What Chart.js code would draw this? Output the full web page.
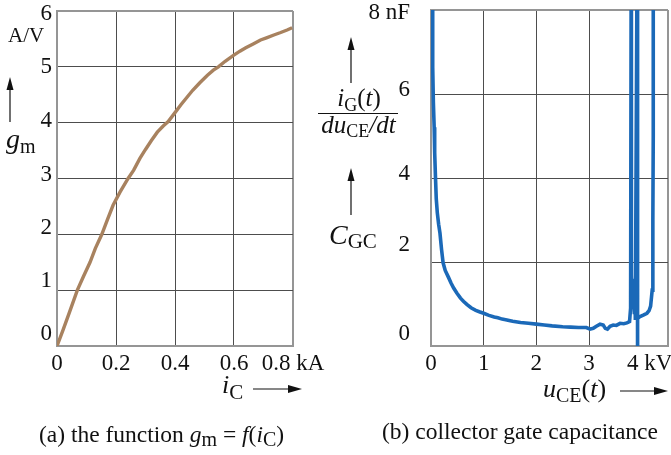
<!DOCTYPE html>
<html>
<head>
<meta charset="utf-8">
<script src="https://cdn.jsdelivr.net/npm/chart.js@4.4.1/dist/chart.umd.min.js"></script>
<style>
  html, body { margin: 0; padding: 0; background: #fff; }
  #wrap { position: relative; width: 671px; height: 455px; overflow: hidden; background: #fff; }
  canvas { position: absolute; top: 0; }
  #chartGm { left: 0; }
  #chartCgc { left: 340px; }
  svg { position: absolute; left: 0; top: 0; pointer-events: none; }
</style>
</head>
<body>
<div id="wrap">
  <canvas id="chartGm" width="335" height="376"></canvas>
  <canvas id="chartCgc" width="331" height="376"></canvas>
  <svg width="671" height="455" font-family="'Liberation Serif', 'Times New Roman', serif" fill="#111">
    <!-- (a) y quantity -->
    <text x="8" y="42" font-size="21">A/V</text>
    <line x1="10" y1="122" x2="10" y2="88" stroke="#111" stroke-width="1.2"/>
    <polygon points="10,77 6.5,90 13.5,90"/>
    <text x="6" y="148" font-size="28"><tspan font-style="italic">g</tspan><tspan font-size="20" dy="5">m</tspan></text>
    <!-- (a) x quantity -->
    <text x="222" y="393" font-size="26"><tspan font-style="italic">i</tspan><tspan font-size="21" dy="6">C</tspan></text>
    <line x1="253" y1="389" x2="290" y2="389" stroke="#111" stroke-width="1.2"/>
    <polygon points="302,389 288,385 288,393"/>
    <!-- (a) caption -->
    <text x="39" y="442" font-size="23.5">(a) the function <tspan font-style="italic">g</tspan><tspan font-size="20" dy="4">m</tspan><tspan dy="-4"> = </tspan><tspan font-style="italic">f</tspan>(<tspan font-style="italic">i</tspan><tspan font-size="20" dy="4">C</tspan><tspan dy="-4">)</tspan></text>

    <!-- (b) y quantity -->
    <line x1="351" y1="83" x2="351" y2="49" stroke="#111" stroke-width="1.2"/>
    <polygon points="351,37 347.5,50 354.5,50"/>
    <text x="359" y="106" font-size="25" text-anchor="middle"><tspan font-style="italic">i</tspan><tspan font-size="18" dy="5">G</tspan><tspan dy="-5">(</tspan><tspan font-style="italic">t</tspan>)</text>
    <line x1="318" y1="113.5" x2="398" y2="113.5" stroke="#111" stroke-width="1.2"/>
    <text x="358.5" y="133" font-size="25" text-anchor="middle"><tspan font-style="italic">du</tspan><tspan font-size="18" dy="4">CE</tspan><tspan dy="-4" font-style="italic">/dt</tspan></text>
    <line x1="351" y1="215" x2="351" y2="180" stroke="#111" stroke-width="1.2"/>
    <polygon points="351,168 347.5,181 354.5,181"/>
    <text x="329" y="244" font-size="28"><tspan font-style="italic">C</tspan><tspan font-size="21" dy="4">GC</tspan></text>
    <!-- (b) x quantity -->
    <text x="543" y="397" font-size="26"><tspan font-style="italic">u</tspan><tspan font-size="20" dy="5">CE</tspan><tspan dy="-5">(</tspan><tspan font-style="italic">t</tspan>)</text>
    <line x1="620" y1="391" x2="656" y2="391" stroke="#111" stroke-width="1.2"/>
    <polygon points="668,391 654,387 654,395"/>
    <!-- (b) caption -->
    <text x="382" y="439" font-size="23.5">(b) collector gate capacitance</text>
  </svg>
</div>
<script>
// ---- (a) transconductance g_m as a function of collector current i_C ----
const icKA = [0, 0.02, 0.04, 0.069, 0.09, 0.112, 0.13, 0.152, 0.17, 0.19, 0.214, 0.241,
  0.26, 0.281, 0.30, 0.32, 0.34, 0.36, 0.377, 0.40, 0.42, 0.44, 0.46, 0.485, 0.51,
  0.53, 0.547, 0.57, 0.597, 0.62, 0.64, 0.665, 0.69, 0.71, 0.735, 0.756, 0.78, 0.797];
const gmAV = [0, 0.28, 0.57, 1.0, 1.25, 1.5, 1.75, 2.0, 2.25, 2.52, 2.76, 3.0,
  3.15, 3.36, 3.52, 3.68, 3.83, 3.94, 4.02, 4.18, 4.32, 4.45, 4.58, 4.72, 4.85,
  4.94, 5.0, 5.1, 5.2, 5.28, 5.34, 5.41, 5.48, 5.52, 5.57, 5.61, 5.66, 5.70];
const icTicks = [0, 0.2, 0.4, 0.6, 0.8];
const icTickLabels = ['0', '0.2', '0.4', '0.6', '0.8 kA'];
const gmTicks = [0, 1, 2, 3, 4, 5, 6];
const gmTickLabels = ['0', '1', '2', '3', '4', '5', '6'];

// ---- (b) collector-gate capacitance C_GC = i_G / (du_CE/dt) over u_CE(t) ----
const uceKV = [0.025, 0.03, 0.035, 0.045, 0.06, 0.07, 0.085, 0.10, 0.12, 0.145, 0.17,
  0.20, 0.23, 0.27, 0.33, 0.38, 0.43, 0.49, 0.56, 0.62, 0.68, 0.76,
  0.85, 0.93, 1.0, 1.1, 1.2, 1.27, 1.35, 1.44, 1.55, 1.7, 1.85, 2.0, 2.15, 2.3, 2.5,
  2.65, 2.8, 2.95, 3.02, 3.08, 3.14, 3.21, 3.27, 3.31, 3.35, 3.40, 3.46, 3.52, 3.59,
  3.66, 3.72, 3.77, 3.79, 3.80, 3.805, 3.805, 3.82, 3.84, 3.86, 3.87, 3.88, 3.91,
  3.915, 3.915, 3.93, 3.97, 4.04, 4.10, 4.14, 4.17, 4.20, 4.21, 4.215, 4.22, 4.22];
const cgcNF = [8.4, 7.6, 6.64, 5.8, 5.21, 4.6, 4.02, 3.5, 3.17, 2.9, 2.69,
  2.3, 1.98, 1.8, 1.64, 1.5, 1.38, 1.26, 1.14, 1.06, 0.99, 0.91,
  0.85, 0.81, 0.78, 0.73, 0.69, 0.67, 0.64, 0.62, 0.59, 0.56, 0.54, 0.52, 0.50, 0.48, 0.46,
  0.45, 0.44, 0.44, 0.40, 0.42, 0.47, 0.52, 0.50, 0.42, 0.40, 0.47, 0.50, 0.49, 0.54,
  0.53, 0.55, 0.58, 0.9, 8.5, 8.5, 1.7, 0.9, 1.6, 0.8, 1.3, 0.62, 8.5,
  8.5, -0.5, 0.66, 0.70, 0.74, 0.78, 0.84, 0.95, 1.33, 1.97, 3.0, 5.0, 8.5];
const uceTicks = [0, 1, 2, 3, 4, 4.5];
const uceTickLabels = ['0', '1', '2', '3', '\u2002\u20094 kV', ''];
const cgcTicks = [0, 2, 4, 6, 8];
const cgcTickLabels = ['0', '2', '4', '6', '8 nF'];

// ---- shared look ----
const SERIF = "'Liberation Serif', 'Times New Roman', serif";
const TEXT = '#111';
const FRAME = '#959595';
const GRID = '#4d4d4d';
Chart.defaults.font.family = SERIF;
Chart.defaults.color = TEXT;

// vertical nudges (px, + = down) for the y tick labels, one per tick
const gmLabelShift = [-12.5, -9, -6, -4, -1.5, 0.5, 2.5];
const cgcLabelShift = [-12.3, -17, -3.7, -4, 2.5];

function isEdge(ctx) {
  const s = ctx.scale, v = ctx.tick && ctx.tick.value;
  return v === s.min || v === s.max;
}

function gridStyle(hidden) {
  return {
    drawTicks: false,
    color: ctx => (hidden && hidden.includes(ctx.tick.value)) ? 'rgba(0,0,0,0)' : (isEdge(ctx) ? FRAME : GRID),
    lineWidth: ctx => isEdge(ctx) ? 2 : 1
  };
}

function xAxis(min, max, values, labels, hidden) {
  return {
    type: 'linear', min, max,
    afterBuildTicks: s => { s.ticks = values.map(v => ({ value: v })); },
    afterFit: s => { s.height = 30; s.paddingLeft = 0; s.paddingRight = 0; },
    grid: gridStyle(hidden),
    border: { color: FRAME, width: 2 },
    ticks: {
      autoSkip: false, maxRotation: 0, minRotation: 0, padding: 4,
      font: { size: 23 }, color: TEXT,
      callback: (v, i) => labels[i]
    }
  };
}

function yAxis(min, max, values, labels, shifts, width, pad) {
  return {
    type: 'linear', min, max,
    afterBuildTicks: s => { s.ticks = values.map(v => ({ value: v })); },
    afterFit: s => { s.width = width; s.paddingTop = 0; s.paddingBottom = 0; },
    grid: gridStyle(),
    border: { color: FRAME, width: 2 },
    ticks: {
      autoSkip: false, padding: pad, color: TEXT,
      // an empty companion line moves the label by half the line height
      font: ctx => ({ family: SERIF, size: 23,
        lineHeight: Math.max(2 * Math.abs(shifts[ctx.index] || 0), 1) + 'px' }),
      callback: (v, i) => shifts[i] < 0 ? [labels[i], ''] : (shifts[i] > 0 ? ['', labels[i]] : labels[i])
    }
  };
}

function trace(xs, ys) {
  return xs.map((x, i) => ({ x, y: ys[i] }));
}

const common = {
  responsive: false,
  animation: false,
  devicePixelRatio: 1,
  events: [],
  plugins: { legend: { display: false }, tooltip: { enabled: false } }
};

new Chart(document.getElementById('chartGm'), {
  type: 'scatter',
  data: { datasets: [{
    data: trace(icKA, gmAV),
    showLine: true, borderColor: '#a8825f', borderWidth: 3.4,
    pointRadius: 0, tension: 0, fill: false
  }] },
  options: Object.assign({}, common, {
    layout: { padding: { left: 0, top: 11, right: 42, bottom: 0 } },
    scales: {
      x: xAxis(0, 0.8, icTicks, icTickLabels),
      y: yAxis(0, 6, gmTicks, gmTickLabels, gmLabelShift, 57, 5)
    }
  })
});

new Chart(document.getElementById('chartCgc'), {
  type: 'scatter',
  data: { datasets: [{
    data: trace(uceKV, cgcNF),
    showLine: true, borderColor: '#1b69b8', borderWidth: 3.6,
    pointRadius: 0, tension: 0, fill: false
  }] },
  options: Object.assign({}, common, {
    layout: { padding: { left: 0, top: 10, right: 3, bottom: 0 } },
    scales: {
      x: xAxis(0, 4.5, uceTicks, uceTickLabels, [4]),
      y: yAxis(0, 8, cgcTicks, cgcTickLabels, cgcLabelShift, 91, 21)
    }
  })
});
</script>
</body>
</html>
